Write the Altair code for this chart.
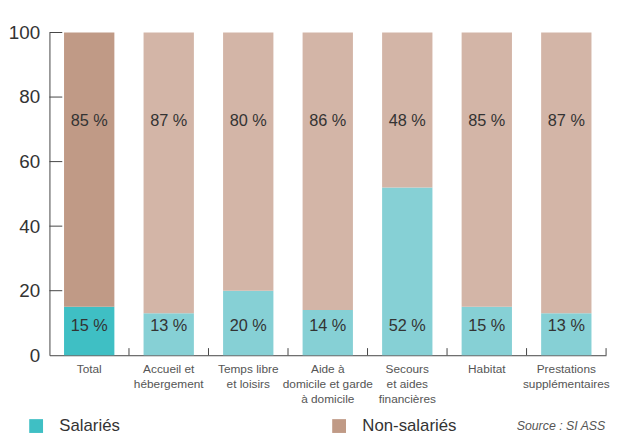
import altair as alt
import pandas as pd

categories = [
    "Total",
    "Accueil et\nhébergement",
    "Temps libre\net loisirs",
    "Aide à\ndomicile et garde\nà domicile",
    "Secours\net aides\nfinancières",
    "Habitat",
    "Prestations\nsupplémentaires",
]
salaries = [15, 13, 20, 14, 52, 15, 13]
non_salaries = [85, 87, 80, 86, 48, 85, 87]
y_ticks = [20, 40, 60, 80, 100]

rows = []
for i, c in enumerate(categories):
    suffix = "" if i == 0 else " (autres)"
    rows.append({"cat": c, "groupe": "Salariés", "key": "Salariés" + suffix,
                 "value": salaries[i], "ordre": 0, "label": f"{salaries[i]} %"})
    rows.append({"cat": c, "groupe": "Non-salariés", "key": "Non-salariés" + suffix,
                 "value": non_salaries[i], "ordre": 1, "label": f"{non_salaries[i]} %"})
df = pd.DataFrame(rows)

FONT = "Liberation Sans"
TXT = "#333333"

x_enc = alt.X("cat:N", sort=categories, title=None,
              scale=alt.Scale(paddingInner=0.366, paddingOuter=0.183),
              axis=alt.Axis(labelExpr="split(datum.label, '\\n')", labelAngle=0,
                            labelFontSize=12, labelColor="#555555", labelFont=FONT,
                            labelLineHeight=15.5, labelPadding=8, labelBaseline="top",
                            ticks=False, domainColor="#444444", domainWidth=1,
                            labelLimit=200))

y_scale = alt.Scale(domain=[0, 100], nice=False)

bars = alt.Chart(df).mark_bar(size=51).encode(
    x=x_enc,
    y=alt.Y("value:Q", stack="zero", scale=y_scale, title=None,
            axis=alt.Axis(values=[0, 20, 40, 60, 80, 100], ticks=False, grid=False,
                          labelFontSize=19, labelColor=TXT, labelFont=FONT,
                          labelPadding=10, domainColor="#444444", domainWidth=1)),
    order=alt.Order("ordre:Q"),
    color=alt.Color(
        "key:N",
        scale=alt.Scale(
            domain=["Salariés", "Non-salariés", "Salariés (autres)", "Non-salariés (autres)"],
            range=["#3FBFC4", "#C09A86", "#86D0D5", "#D3B5A7"]),
        legend=alt.Legend(values=["Salariés", "Non-salariés"], title=None,
                          orient="none", legendX=-22, legendY=390, direction="horizontal",
                          symbolType="square", symbolSize=196, symbolStrokeWidth=0,
                          labelFontSize=17, labelColor=TXT, labelFont=FONT,
                          labelOffset=15, columnPadding=213, padding=0),
    ),
)

lab_sal = alt.Chart(df[df["groupe"] == "Salariés"]).mark_text(
    fontSize=16.5, color=TXT, font=FONT).encode(
    x=alt.X("cat:N", sort=categories), y=alt.datum(8.9), text="label:N")
lab_non = alt.Chart(df[df["groupe"] == "Non-salariés"]).mark_text(
    fontSize=16.5, color=TXT, font=FONT).encode(
    x=alt.X("cat:N", sort=categories), y=alt.datum(72.5), text="label:N")

x_ticks = alt.Chart(pd.DataFrame({"cat": categories})).mark_rule(
    color="#444444", strokeWidth=1, xOffset=14.75).encode(
    x=alt.X("cat:N", sort=categories, bandPosition=1),
    y=alt.datum(0), y2=alt.datum(2.2))

y_tick_marks = alt.Chart(pd.DataFrame({"v": y_ticks})).mark_rule(
    color="#444444", strokeWidth=1).encode(
    x=alt.value(0), x2=alt.value(13), y=alt.Y("v:Q", scale=y_scale))

chart = alt.layer(bars, lab_sal, lab_non, x_ticks, y_tick_marks).properties(
    width=564, height=327,
    padding={"left": 42, "top": 22, "right": 5, "bottom": 79},
    autosize=alt.AutoSizeParams(type="none"),
    title=alt.Title("Source : SI ASS", orient="bottom", anchor="end",
                    fontSize=12.5, fontStyle="italic", fontWeight="normal",
                    color="#555555", font=FONT, offset=0, dx=-4, dy=-14),
).configure_view(stroke=None)

chart.save("out.html", embed_options={"renderer": "svg", "actions": False})
